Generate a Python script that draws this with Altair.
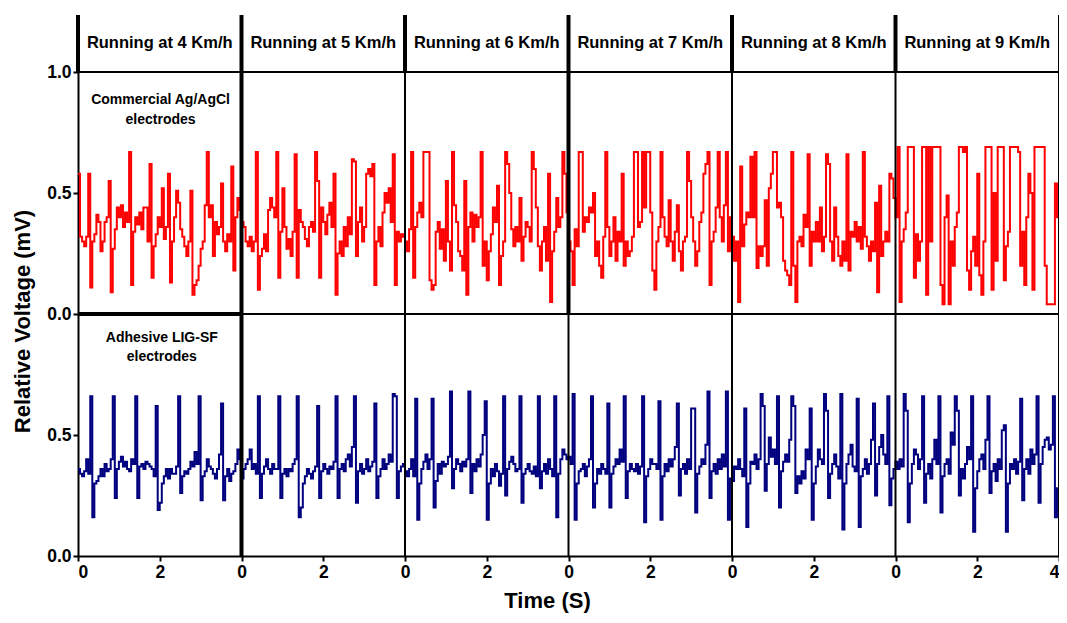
import altair as alt
import pandas as pd

# ---------------- data ----------------
DT = 0.05          # sampling step (s)
PANEL_SECONDS = 4  # each speed segment lasts 4 s
speeds = ["4", "5", "6", "7", "8", "9"]
header_labels = [f"Running at {s} Km/h" for s in speeds]

# Commercial Ag/AgCl electrodes (mV), one list per running speed
red_4 = [0.58,0.32,0.30,0.28,0.32,0.58,0.11,0.30,0.33,0.41,0.38,0.26,0.30,0.38,0.40,0.55,0.09,0.27,0.35,0.44,
         0.40,0.45,0.36,0.42,0.38,0.67,0.12,0.34,0.40,0.37,0.42,0.35,0.44,0.44,0.30,0.62,0.15,0.28,0.33,0.40,
         0.36,0.52,0.31,0.36,0.58,0.13,0.30,0.40,0.51,0.46,0.35,0.32,0.28,0.24,0.30,0.51,0.08,0.12,0.14,0.20,
         0.27,0.30,0.45,0.67,0.40,0.45,0.24,0.38,0.33,0.36,0.54,0.30,0.26,0.33,0.30,0.61,0.18,0.40,0.48,0.43]
red_5 = [0.38,0.36,0.30,0.28,0.32,0.26,0.30,0.67,0.10,0.24,0.27,0.33,0.26,0.43,0.48,0.44,0.40,0.67,0.15,0.34,
         0.52,0.36,0.27,0.31,0.24,0.34,0.66,0.15,0.43,0.38,0.36,0.31,0.28,0.36,0.38,0.34,0.67,0.55,0.15,0.44,
         0.38,0.33,0.41,0.46,0.36,0.58,0.08,0.25,0.30,0.24,0.36,0.28,0.40,0.33,0.64,0.63,0.24,0.38,0.44,0.30,
         0.36,0.58,0.60,0.57,0.62,0.12,0.30,0.36,0.28,0.42,0.50,0.46,0.52,0.38,0.66,0.12,0.34,0.30,0.33,0.32]
red_6 = [0.30,0.26,0.35,0.67,0.15,0.36,0.42,0.46,0.40,0.67,0.67,0.67,0.14,0.10,0.12,0.34,0.38,0.27,0.35,0.22,
         0.55,0.30,0.18,0.67,0.45,0.38,0.26,0.24,0.18,0.55,0.08,0.36,0.42,0.30,0.41,0.36,0.40,0.67,0.20,0.30,
         0.14,0.26,0.33,0.44,0.38,0.53,0.12,0.24,0.30,0.67,0.62,0.50,0.35,0.28,0.36,0.30,0.48,0.22,0.32,0.38,
         0.36,0.30,0.67,0.60,0.44,0.28,0.18,0.30,0.36,0.22,0.58,0.05,0.26,0.34,0.48,0.36,0.40,0.67,0.58,0.42]
red_7 = [0.30,0.26,0.12,0.35,0.28,0.67,0.67,0.34,0.40,0.38,0.44,0.42,0.50,0.24,0.30,0.20,0.15,0.32,0.67,0.36,
         0.24,0.30,0.40,0.22,0.34,0.30,0.58,0.20,0.30,0.24,0.26,0.32,0.67,0.67,0.36,0.38,0.67,0.44,0.67,0.67,
         0.42,0.18,0.10,0.30,0.36,0.67,0.40,0.32,0.28,0.47,0.30,0.22,0.34,0.45,0.26,0.18,0.30,0.32,0.67,0.55,
         0.40,0.30,0.20,0.26,0.38,0.42,0.58,0.62,0.67,0.12,0.30,0.34,0.44,0.67,0.40,0.30,0.45,0.67,0.26,0.40]
red_8 = [0.32,0.22,0.30,0.05,0.61,0.28,0.37,0.42,0.40,0.65,0.40,0.67,0.19,0.28,0.24,0.28,0.47,0.20,0.52,0.58,
         0.67,0.67,0.44,0.46,0.40,0.22,0.18,0.16,0.12,0.67,0.20,0.05,0.30,0.32,0.28,0.41,0.36,0.66,0.20,0.34,
         0.30,0.38,0.30,0.44,0.26,0.32,0.66,0.62,0.30,0.22,0.44,0.32,0.24,0.20,0.30,0.22,0.66,0.18,0.34,0.32,
         0.38,0.30,0.36,0.27,0.67,0.32,0.28,0.22,0.30,0.26,0.46,0.09,0.53,0.24,0.30,0.34,0.30,0.58,0.56,0.48]
red_9 = [0.40,0.69,0.05,0.30,0.35,0.42,0.69,0.69,0.69,0.15,0.33,0.22,0.30,0.69,0.69,0.08,0.69,0.30,0.69,0.69,
         0.69,0.69,0.12,0.04,0.40,0.49,0.04,0.30,0.20,0.36,0.42,0.69,0.69,0.67,0.69,0.18,0.10,0.26,0.32,0.20,
         0.58,0.16,0.08,0.30,0.69,0.69,0.69,0.10,0.50,0.22,0.69,0.69,0.69,0.14,0.28,0.34,0.69,0.69,0.69,0.69,
         0.67,0.20,0.34,0.12,0.40,0.58,0.50,0.10,0.69,0.69,0.69,0.69,0.69,0.20,0.04,0.04,0.04,0.04,0.54,0.40]

# Adhesive LIG-SF electrodes (mV), one list per running speed
blue_4 = [0.36,0.34,0.33,0.35,0.40,0.34,0.66,0.16,0.30,0.31,0.33,0.36,0.33,0.38,0.35,0.36,0.40,0.66,0.24,0.36,
          0.39,0.41,0.37,0.39,0.36,0.35,0.40,0.38,0.66,0.24,0.37,0.38,0.36,0.39,0.38,0.37,0.36,0.33,0.62,0.19,
          0.22,0.30,0.33,0.36,0.32,0.36,0.34,0.34,0.37,0.66,0.26,0.33,0.35,0.34,0.36,0.39,0.37,0.43,0.38,0.66,
          0.23,0.33,0.35,0.40,0.37,0.36,0.34,0.32,0.36,0.42,0.63,0.23,0.33,0.36,0.31,0.34,0.35,0.38,0.44,0.40]
blue_5 = [0.32,0.36,0.38,0.40,0.44,0.36,0.38,0.34,0.66,0.24,0.34,0.37,0.40,0.36,0.34,0.38,0.36,0.36,0.66,0.24,
          0.34,0.36,0.33,0.36,0.35,0.38,0.40,0.66,0.16,0.20,0.30,0.33,0.36,0.34,0.32,0.35,0.37,0.62,0.24,0.35,
          0.38,0.36,0.34,0.37,0.36,0.39,0.66,0.24,0.36,0.38,0.35,0.40,0.42,0.37,0.45,0.66,0.22,0.35,0.38,0.34,
          0.36,0.40,0.35,0.37,0.39,0.63,0.24,0.33,0.36,0.40,0.36,0.38,0.42,0.39,0.67,0.66,0.24,0.35,0.37,0.38]
blue_6 = [0.35,0.33,0.36,0.40,0.33,0.65,0.15,0.30,0.36,0.39,0.42,0.36,0.40,0.65,0.20,0.31,0.38,0.34,0.39,0.37,
          0.38,0.41,0.68,0.28,0.36,0.40,0.38,0.35,0.39,0.37,0.40,0.68,0.26,0.38,0.35,0.40,0.37,0.42,0.50,0.64,
          0.15,0.30,0.36,0.33,0.38,0.35,0.29,0.34,0.66,0.25,0.36,0.39,0.41,0.38,0.35,0.36,0.66,0.22,0.34,0.36,
          0.38,0.35,0.34,0.37,0.33,0.66,0.28,0.35,0.38,0.34,0.40,0.36,0.33,0.66,0.16,0.34,0.40,0.44,0.42,0.40]
blue_7 = [0.41,0.38,0.67,0.15,0.30,0.35,0.36,0.38,0.33,0.37,0.40,0.66,0.20,0.30,0.36,0.34,0.38,0.36,0.34,0.63,
          0.20,0.34,0.37,0.40,0.38,0.44,0.39,0.66,0.24,0.35,0.38,0.36,0.35,0.38,0.34,0.37,0.66,0.14,0.33,0.36,
          0.40,0.38,0.38,0.36,0.64,0.15,0.33,0.38,0.35,0.40,0.37,0.40,0.45,0.63,0.25,0.36,0.38,0.34,0.40,0.36,
          0.61,0.61,0.18,0.34,0.37,0.40,0.38,0.46,0.68,0.24,0.35,0.38,0.34,0.40,0.36,0.42,0.37,0.68,0.15,0.32]
blue_8 = [0.31,0.37,0.36,0.40,0.36,0.33,0.61,0.12,0.30,0.39,0.38,0.42,0.36,0.40,0.67,0.62,0.27,0.38,0.49,0.41,
          0.44,0.38,0.66,0.20,0.35,0.39,0.42,0.39,0.48,0.66,0.62,0.26,0.33,0.30,0.35,0.32,0.44,0.40,0.61,0.15,
          0.30,0.37,0.44,0.40,0.38,0.67,0.60,0.24,0.34,0.38,0.42,0.37,0.32,0.67,0.11,0.30,0.38,0.42,0.46,0.37,
          0.35,0.65,0.12,0.33,0.36,0.40,0.34,0.38,0.48,0.63,0.25,0.38,0.45,0.50,0.42,0.38,0.66,0.21,0.32,0.36]
blue_9 = [0.39,0.36,0.40,0.37,0.67,0.60,0.14,0.30,0.38,0.44,0.42,0.36,0.40,0.66,0.22,0.34,0.38,0.32,0.40,0.48,
          0.38,0.66,0.18,0.33,0.38,0.40,0.34,0.51,0.46,0.66,0.60,0.25,0.36,0.32,0.38,0.45,0.40,0.66,0.10,0.28,
          0.35,0.40,0.42,0.36,0.48,0.66,0.26,0.35,0.38,0.31,0.40,0.36,0.52,0.54,0.10,0.30,0.38,0.36,0.40,0.34,
          0.39,0.65,0.23,0.36,0.40,0.34,0.44,0.38,0.42,0.66,0.22,0.38,0.45,0.48,0.49,0.44,0.46,0.66,0.16,0.28]

red_panels = [red_4, red_5, red_6, red_7, red_8, red_9]
blue_panels = [blue_4, blue_5, blue_6, blue_7, blue_8, blue_9]

series_names = ["Commercial Ag/AgCl", "Adhesive LIG-SF"]
series_colors = ["#ff0000", "#00007f"]
series_offset = [1.0, 0.0]        # upper and lower stacked panel

y_ticks = [0.0, 0.5, 1.0, 1.5, 2.0]
x_ticks = list(range(0, 25, 2))
Y_TOP = 2.236                      # top of the header strip
HEADER_BASE = 2.0

# ---------------- build tables ----------------
rows = []
n_panels = len(speeds)
for s_idx, panels in enumerate([red_panels, blue_panels]):
    for p, vals in enumerate(panels):
        for i, v in enumerate(vals):
            rows.append({"t": p * PANEL_SECONDS + i * DT, "y": v + series_offset[s_idx],
                         "series": series_names[s_idx]})
    rows.append({"t": n_panels * PANEL_SECONDS, "y": panels[-1][-1] + series_offset[s_idx],
                 "series": series_names[s_idx]})
signal = pd.DataFrame(rows)

bounds = [p * PANEL_SECONDS for p in range(n_panels + 1)]
vrows = []
for b in bounds:
    head_w = 2 if b == bounds[-1] else 4
    vrows.append({"x": b, "y": HEADER_BASE, "y2": Y_TOP, "w": head_w})
    upper_w = 4 if b in (4, 12) else 2
    lower_w = 4 if b == 4 else 2
    if b != 0:
        vrows.append({"x": b, "y": 1.0, "y2": HEADER_BASE, "w": upper_w})
        vrows.append({"x": b, "y": 0.0, "y2": 1.0, "w": lower_w})
vrules = pd.DataFrame(vrows)

hrules = pd.DataFrame([
    {"x": 0, "x2": 24, "y": HEADER_BASE, "w": 2},
    {"x": 0, "x2": 4, "y": 1.0, "w": 4},
    {"x": 4, "x2": 24, "y": 1.0, "w": 2},
])

headers = pd.DataFrame({"x": [b + PANEL_SECONDS / 2 for b in bounds[:-1]],
                        "y": [2.122] * n_panels, "label": header_labels})

notes = pd.DataFrame({
    "x": [2.02, 2.02, 2.05, 2.05],
    "y": [1.885, 1.80, 0.90, 0.822],
    "label": ["Commercial Ag/AgCl", "electrodes", "Adhesive LIG-SF", "electrodes"],
})

FONT = "Liberation Sans"
xscale = alt.Scale(domain=[0, 24], nice=False, zero=False)
yscale = alt.Scale(domain=[0, Y_TOP], nice=False, zero=True)

lines = alt.Chart(signal).mark_line(interpolate="step-after", strokeWidth=2.0).encode(
    x=alt.X("t:Q", scale=xscale, axis=alt.Axis(
        values=x_ticks, title="Time (S)",
        labelExpr="datum.value == 24 ? '4' : format(datum.value % 4, 'd')",
        titleX=469, titleY=34, titleBaseline="top", titleAnchor="start", titleAlign="center",
        titleFontSize=22)),
    y=alt.Y("y:Q", scale=yscale, axis=alt.Axis(
        values=y_ticks, title="Relative Voltage (mV)",
        labelExpr="datum.value >= 1 ? format(datum.value - 1, '.1f') : format(datum.value, '.1f')",
        titleX=-44, titleY=306, titleAlign="center", titleFontSize=22)),
    color=alt.Color("series:N", scale=alt.Scale(domain=series_names, range=series_colors), legend=None),
    detail="series:N",
)

vr = alt.Chart(vrules).mark_rule(color="black", strokeCap="butt").encode(
    x="x:Q", y="y:Q", y2="y2:Q", strokeWidth=alt.StrokeWidth("w:Q", scale=None))
hr = alt.Chart(hrules).mark_rule(color="black", strokeCap="butt").encode(
    x="x:Q", x2="x2:Q", y="y:Q", strokeWidth=alt.StrokeWidth("w:Q", scale=None))

head_text = alt.Chart(headers).mark_text(font=FONT, fontWeight="bold", fontSize=16.5,
                                         color="black", baseline="middle").encode(
    x="x:Q", y="y:Q", text="label:N")
note_text = alt.Chart(notes).mark_text(font=FONT, fontWeight="bold", fontSize=14,
                                       color="black", baseline="middle").encode(
    x="x:Q", y="y:Q", text="label:N")

chart = alt.layer(lines, vr, hr, head_text, note_text).properties(
    width=981, height=541,
    autosize=alt.AutoSizeParams(type="none"),
    padding={"left": 70, "top": 7, "right": 0, "bottom": 59},
    background="white",
).configure_view(stroke=None).configure_axis(
    labelFont=FONT, labelFontWeight="bold", labelFontSize=17.5, labelColor="black",
    titleFont=FONT, titleFontWeight="bold", titleColor="black",
    domainColor="black", domainWidth=2, tickColor="black", tickWidth=2, tickSize=5,
    grid=False, labelPadding=2,
)

chart.save("out.html", embed_options={"renderer": "svg", "actions": False})
